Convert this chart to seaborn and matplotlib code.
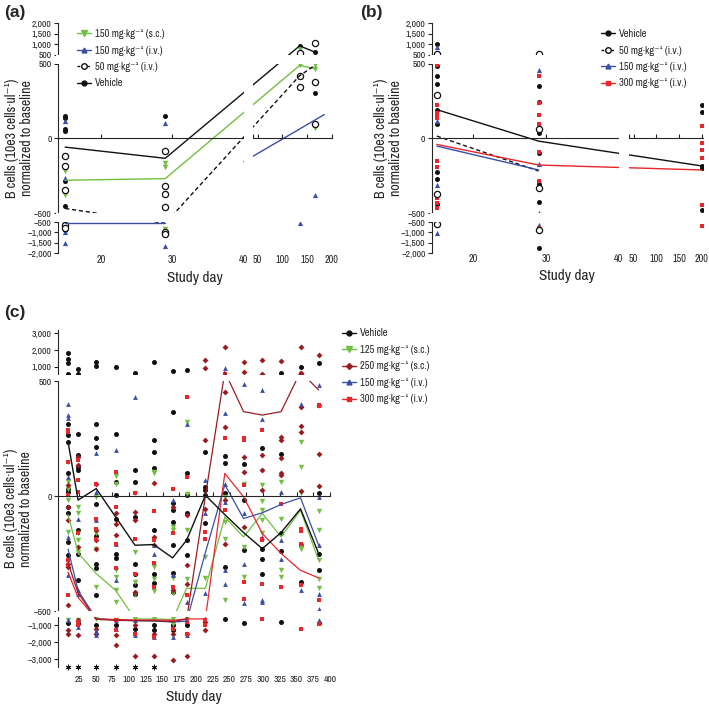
import numpy as np
import pandas as pd
import matplotlib
matplotlib.use("Agg")
import matplotlib.pyplot as plt
from matplotlib.patches import Rectangle
from matplotlib.lines import Line2D
from matplotlib import font_manager
import seaborn as sns

# ---------------- data ----------------
# panel (a)
a_days = [15, 29, 135, 166]
a_veh = [[153, 138, 60, 47, -285, -451, -600, -730, -890], [149, -1040, -1130], [926], [628, 305]]
a_sc150 = [[-120, -185, -215, -345, -380, -560], [-165, -190, -370, -850], [770, 489], [495, 467, 71]]
a_iv150 = [[115, -267, -1000, -1500], [104, -318, -1050, -1660], [420, 345, -530], [378, -378]]
a_iv50 = [[-120, -185, -345, -650, -800], [-84, -318, -369, -462, -1000, -1080], [609, 420, 345], [1054, 378, 100]]
a_veh_line = [-58, -133, 926, 628]
a_sc150_line = [-280, -269, 489, 467]
a_iv50_line = [-469, -560, 420, 490]
a_iv150_left_days = [15, 29]
a_iv150_left = [-560, -560]
a_iv150_right_days = [40, 185]
a_iv150_right = [-155, 160]

# panel (b)
b_days = [15, 29, 200]
b_veh = [[1007, 482, 415, 364, 289, 193, 100, -222, -269, -440],
         [349, 245, 71, 38, -96, -307, -424, -886, -1770],
         [227, 176, -184, -195, -478]]
b_iv50 = [[550, 289, -369, -600], [550, 63, -333, -890], []]
b_iv150 = [[893, 115, -311, -1046], [455, -173, -496, -645], []]
b_iv300 = [[493, 227, 170, 150, 140, -151, -190, -396, -430, -469],
           [420, 238, 156, 100, 50, -91, -285, -800],
           [82, -33, -80, -133, -444, -693]]
b_veh_line = [193, -18, -184]
b_iv50_line = [16, -218]
b_iv150_line = [-51, -211]
b_iv300_line = [-40, -178, -211]

# panel (c)
c_days = [9, 24, 51, 80, 109, 137, 165, 186, 214, 243, 271, 299, 327, 356, 383]
c_veh = [[1800, 1440, 1200, 560, 312, 265, 236, 99, 33, 20, -46, -75, -199, -257, -860],
         [860, 560, 272, 178, 128, 113, -148, -249, -365, -860],
         [1300, 1040, 312, 251, 214, -35, -171, -293, -314, -430, -1000],
         [1000, 272, 62, 7, -101, -249, -267, -1000],
         [600, 113, 62, -90, -293, -336, -387, -423, -1200],
         [1300, 246, 193, 123, -148, -336, -377, -1000, -1290],
         [760, 367, -29, -58, -112, -213, -333, -414, -1000, -1290],
         [800, 101, 4, -75, -191, -257, -1000],
         [193, 41, 26, 4, -116],
         [174, 142, 12, -307, -608],
         [139, -17, -235, -860],
         [207, -228, -272, -339],
         [600, 183, -162, -238, -800],
         [960, -213, -372],
         [1200, 14, -249, -319, -860]]
c_sc125 = [[149, 62, 33, -17, -155, -700],
           [-46, -75, -162, -191, -242, -700],
           [-3, -162, -228, -394, -610],
           [87, 55, -319, -351, -409, -459, -700],
           [12, -242, -372, -423, -610, -800],
           [106, 100, -191, -307, -358, -410, -610],
           [-133, -148, -354, -420, -610, -900],
           [320, 9, -148, -358, -610],
           [-264, -354],
           [-3, -112, -184, -452],
           [55, -220, -351],
           [48, -22, -61, -104, -162],
           [62, -97, -322, -351],
           [236, 128, 12, -220, -228],
           [-65, -148, -278, -358, -397]]
c_sc250 = [[48, -46, -104, -293, -307, -474, -1290, -1490],
           [171, 135, -220, -706, -900, -1590],
           [55, -148, -191, -228, -1200, -1490],
           [-75, -119, -170, -1590, -2180],
           [-68, -104, -416, -1000, -2820],
           [58, -177, -213, -1490, -2820],
           [-46, -409, -1490, -3060],
           [-83, -300, -380, -1490, -2820],
           [1400, 900, 243, -54, -800, -1290],
           [2160, 454, 301, -17, -206],
           [1300, 700, 171, 106, -133],
           [1400, 560, 178, 113, 26],
           [1360, 258, 243, 167, 99, 90],
           [2200, 600, 388, 304, 280, 22],
           [1700, 396, 181, 43]]
c_iv150 = [[400, 352, 338, 84, -177, -343, -706],
           [-97, -409, -423, -1100],
           [186, 19, -104, -1300, -1590],
           [200, -206, -365, -706, -1200],
           [429, -706, -1590],
           [-213, -249, -1690],
           [-17, -343, -1690],
           [313, -459, -1590],
           [70, -72, -420],
           [900, 359, 55, -25, -319, -380],
           [486, -75, -293, -464],
           [461, 335, -177, -449, -460],
           [19, -191, -272],
           [400, -406],
           [483, -3, -213, -423, -488, -706]]
c_iv300 = [[280, 287, 149, 4, -278, -300, -430],
           [159, 70, 19, -162, -800, -1000],
           [51, -101, -141, -184],
           [106, -46, -206, -314, -706, -1290],
           [14, -188, -336, -1490],
           [-64, -191, -290, -394, -1690],
           [29, -162, -394, -1200],
           [432, 84, -430, -800, -1490],
           [-155, -184, -706, -1000],
           [540, 251, -61],
           [251, 243, 48, -372, -445],
           [287, -184, -190, -380, -608],
           [-32, -394],
           [-141, -150, -206, -387, -1200],
           [396, 390, -452, -900]]
c_veh_line = [236, -17, 33, -90, -213, -210, -268, -191, 4, -80, -158, -228, -158, -55, -249]
c_sc125_line = [-80, -246, -336, -409, -620, -620, -650, -400, -400, -90, -177, -75, -177, -61, -278]
c_sc250_line = [-290, -420, -640, -700, -720, -720, -780, -620, 0, 700, 367, 352, 367, 700, 461]
c_iv150_line = [-230, -410, -600, -680, -720, -740, -800, -750, -245, 50, -97, -72, -36, -7, -213]
c_iv300_line = [-330, -440, -620, -650, -680, -680, -700, -620, -620, 99, -3, -162, -249, -322, -355]
c_star_days = [9, 24, 51, 80, 109, 137]

# ---------------- style ----------------
sns.set_style("ticks")
names = {f.name for f in font_manager.fontManager.ttflist}
pref = ["Archivo Narrow", "Liberation Sans Narrow", "Arial Narrow", "Roboto Condensed",
        "Barlow Semi Condensed"]
narrow = [n for n in pref if n in names]
NARROW = bool(narrow)
plt.rcParams["font.family"] = ([narrow[0]] if NARROW else ["Liberation Sans"]) + ["DejaVu Sans"]
plt.rcParams["axes.linewidth"] = 0.8
TS = 7 if NARROW else 6.3   # tick label size

BLACK = "#111111"
GREEN = "#72bf44"
BLUE = "#3a4ea3"
RED = "#e8262b"
DRED = "#9b1c20"
MINUS = "\u2212"
UNIT = "mg\u00b7kg\u207b\u00b9"


def long_df(days, cols):
    return pd.DataFrame([(d, v) for d, col in zip(days, cols) for v in col], columns=["day", "value"])


def y_funcs(km, ku, kl, gu, gl):
    top = 500 * km + gu
    bot = -500 * km - gl

    def fwd(v):
        v = np.asarray(v, dtype=float)
        return np.where(v > 500, top + (v - 500) * ku,
                        np.where(v < -500, bot + (v + 500) * kl, v * km))

    def inv(s):
        s = np.asarray(s, dtype=float)
        return np.where(s > top, 500 + (s - top) / ku,
                        np.where(s < bot, -500 + (s - bot) / kl, np.clip(s / km, -500, 500)))
    return fwd, inv


def x_funcs(k1, k2, gap):
    brk = 40 * k1 + gap

    def fwd(d):
        d = np.asarray(d, dtype=float)
        return np.where(d > 40, brk + (d - 40) * k2, d * k1)

    def inv(s):
        s = np.asarray(s, dtype=float)
        return np.where(s > brk, 40 + (s - brk) / k2, np.minimum(s / k1, 40))
    return fwd, inv


def fmt(v):
    s = f"{abs(int(v)):,}"
    return (MINUS + s) if v < 0 else s


def dots(ax, days, cols, color, marker, size=14, open_=False):
    df = long_df(days, cols)
    if open_:
        sns.scatterplot(data=df, x="day", y="value", marker=marker, s=size, color="white",
                        edgecolor=BLACK, linewidth=0.9, ax=ax, legend=False, zorder=1.2)
    else:
        sns.scatterplot(data=df, x="day", y="value", marker=marker, s=size, color=color,
                        linewidth=0, ax=ax, legend=False, zorder=1.1)


def mean_line(ax, days, vals, color, ls="-", lw=1.0):
    sns.lineplot(x=days, y=vals, color=color, linestyle=ls, linewidth=lw, ax=ax,
                 estimator=None, sort=False, zorder=2)


def finish(ax, yf, xf, xlim, ylim, xticks, xlabels, yticks, ylabels, xpad, xgap=True):
    ax.set_yscale("function", functions=yf)
    if xf is not None:
        ax.set_xscale("function", functions=xf)
    ax.set_xlim(*xlim)
    ax.set_ylim(*ylim)
    ax.spines["top"].set_visible(False)
    ax.spines["right"].set_visible(False)
    ax.spines["bottom"].set_position(("data", 0))
    ax.set_yticks(yticks, ylabels)
    ax.set_xticks(xticks, xlabels)
    ax.tick_params(axis="y", direction="out", length=3, width=0.8, labelsize=TS, pad=1.5)
    ax.tick_params(axis="x", direction="in", length=3, width=0.8, labelsize=TS + 0.3, pad=xpad)
    ax.set_xlabel("Study day", fontsize=11, labelpad=4)
    ax.set_ylabel("B cells (10e3 cells\u00b7ul\u207b\u00b9)\nnormalized to baseline",
                  fontsize=10 if NARROW else 9, linespacing=1.05)
    # white strips for the broken axes
    ax.add_patch(Rectangle((-0.006, 500), 1.02, 1e-6, transform=ax.get_yaxis_transform(),
                           facecolor="white", edgecolor="none", zorder=2.6, clip_on=False))
    ax.add_patch(Rectangle((-0.006, -500 - 1e-6), 1.02, 1e-6, transform=ax.get_yaxis_transform(),
                           facecolor="white", edgecolor="none", zorder=2.6, clip_on=False))
    if xgap:
        ax.add_patch(Rectangle((40, 0), 1e-6, 1.0, transform=ax.get_xaxis_transform(),
                               facecolor="white", edgecolor="none", zorder=2.6, clip_on=False))


W, H = 709, 707
fig = plt.figure(figsize=(W / 100, H / 100), dpi=100)


def add_axes(l, r, t, b):
    return fig.add_axes([l / W, 1 - b / H, (r - l) / W, (b - t) / H])


ab_yticks = [-2000, -1500, -1000, -500.0001, -500, 0, 500, 500.0001, 1000, 1500, 2000]
ab_ylabels = [fmt(v) for v in [-2000, -1500, -1000, -500, -500, 0, 500, 500, 1000, 1500, 2000]]
ab_xticks = [20, 30, 40, 40.000001, 50, 100, 150, 200]
ab_xlabels = ["20", "30", "40", "", "50", "100", "150", "200"]
LEG = dict(loc="upper left", frameon=False, fontsize=7.5 if NARROW else 7, handlelength=1.3,
           handletextpad=0.4, labelspacing=0.62, borderpad=0, borderaxespad=0)

# ---------------- panel (a) ----------------
ax = add_axes(58, 331.7, 23.3, 253)
dots(ax, a_days, a_veh, BLACK, "o", 13)
dots(ax, a_days, a_iv50, BLACK, "o", 20, open_=True)
dots(ax, a_days, a_sc150, GREEN, "v", 16)
dots(ax, a_days, a_iv150, BLUE, "^", 14)
mean_line(ax, a_days, a_veh_line, BLACK)
mean_line(ax, a_days, a_sc150_line, GREEN)
mean_line(ax, a_days, a_iv50_line, BLACK, ls=(0, (3, 2)))
mean_line(ax, a_iv150_left_days, a_iv150_left, BLUE)
mean_line(ax, a_iv150_right_days, a_iv150_right, BLUE)
finish(ax, y_funcs(0.15, 0.0211, 0.0207, 9, 9), x_funcs(7.22, 0.498, 9), (14.0, 200), (-2000, 2000),
       ab_xticks, ab_xlabels, ab_yticks, ab_ylabels, xpad=84)
ax.yaxis.set_label_coords(-0.088, 0.5)
hd = [Line2D([], [], color=GREEN, marker="v", ms=4, lw=1),
      Line2D([], [], color=BLUE, marker="^", ms=3.5, lw=1),
      Line2D([], [], color=BLACK, marker="o", ms=4, mfc="white", lw=1, ls=(0, (2, 1.5))),
      Line2D([], [], color=BLACK, marker="o", ms=3.5, lw=1)]
ax.legend(hd, [f"150 {UNIT} (s.c.)", f"150 {UNIT} (i.v.)", f"50 {UNIT} (i.v.)", "Vehicle"],
          bbox_to_anchor=(0.07, 0.975), **LEG)

# ---------------- panel (b) ----------------
ax = add_axes(431.7, 703, 23.3, 253)
dots(ax, b_days, b_veh, BLACK, "o", 13)
dots(ax, b_days, b_iv50, BLACK, "o", 20, open_=True)
dots(ax, b_days, b_iv150, BLUE, "^", 14)
dots(ax, b_days, b_iv300, RED, "s", 12)
mean_line(ax, b_days, b_veh_line, BLACK)
mean_line(ax, b_days[:2], b_iv50_line, BLACK, ls=(0, (3, 2)))
mean_line(ax, b_days[:2], b_iv150_line, BLUE)
mean_line(ax, b_days, b_iv300_line, RED)
finish(ax, y_funcs(0.15, 0.0211, 0.0207, 9, 9), x_funcs(7.27, 0.453, 10.5), (14.3, 203), (-2000, 2000),
       ab_xticks, ab_xlabels, ab_yticks, ab_ylabels, xpad=83)
ax.yaxis.set_label_coords(-0.106, 0.5)
hd = [Line2D([], [], color=BLACK, marker="o", ms=3.5, lw=1),
      Line2D([], [], color=BLACK, marker="o", ms=4, mfc="white", lw=1, ls=(0, (2, 1.5))),
      Line2D([], [], color=BLUE, marker="^", ms=3.5, lw=1),
      Line2D([], [], color=RED, marker="s", ms=3.5, lw=1)]
ax.legend(hd, ["Vehicle", f"50 {UNIT} (i.v.)", f"150 {UNIT} (i.v.)", f"300 {UNIT} (i.v.)"],
          bbox_to_anchor=(0.625, 0.975), **LEG)

# ---------------- panel (c) ----------------
ax = add_axes(58, 330, 330, 667)
dots(ax, c_days, c_veh, BLACK, "o", 13)
dots(ax, c_days, c_sc125, GREEN, "v", 15)
dots(ax, c_days, c_sc250, DRED, "D", 9)
dots(ax, c_days, c_iv150, BLUE, "^", 12)
dots(ax, c_days, c_iv300, RED, "s", 11)
mean_line(ax, c_days, c_sc125_line, GREEN, lw=0.9)
mean_line(ax, c_days, c_iv150_line, BLUE, lw=0.9)
mean_line(ax, c_days, c_iv300_line, RED, lw=0.9)
mean_line(ax, c_days, c_sc250_line, DRED, lw=0.9)
mean_line(ax, c_days, c_veh_line, BLACK, lw=1.0)
c_yticks = [-3000, -2000, -1000, -500, 0, 500, 1000, 2000, 3000]
c_xticks = list(range(25, 401, 25))
ax.set_xscale("function", functions=(lambda d: np.asarray(d, float) * 0.678,
                                     lambda s: np.asarray(s, float) / 0.678))
c_ylim = (-3450, 3200)
finish(ax, y_funcs(0.2307, 0.0167, 0.017, 6, 5.6), None, (-6, 400), c_ylim,
       c_xticks, [str(t) for t in c_xticks], c_yticks, [fmt(v) for v in c_yticks], xpad=129, xgap=False)
ax.tick_params(axis="x", labelsize=6.8 if NARROW else 5.6)
ax.yaxis.set_label_coords(-0.092, 0.47)
# significance asterisks just under the lower end of the y-axis
sns.scatterplot(x=c_star_days, y=[c_ylim[0]] * len(c_star_days), marker=(6, 2, 0), s=12,
                color=BLACK, edgecolor=BLACK, linewidth=0.7, ax=ax, legend=False, clip_on=False)
hd = [Line2D([], [], color=BLACK, marker="o", ms=3.5, lw=1),
      Line2D([], [], color=GREEN, marker="v", ms=4, lw=1),
      Line2D([], [], color=DRED, marker="D", ms=3, lw=1),
      Line2D([], [], color=BLUE, marker="^", ms=3.5, lw=1),
      Line2D([], [], color=RED, marker="s", ms=3.5, lw=1)]
ax.legend(hd, ["Vehicle", f"125 {UNIT} (s.c.)", f"250 {UNIT} (s.c.)", f"150 {UNIT} (i.v.)",
               f"300 {UNIT} (i.v.)"], bbox_to_anchor=(1.045, 1.005), **LEG)

for lab, x, y in [("(a)", 4, 12), ("(b)", 360, 12), ("(c)", 4, 312)]:
    fig.text(x / W, 1 - y / H, lab, fontsize=12.5, fontweight="bold", va="center", ha="left",
             family="Liberation Sans")

fig.savefig("out.png", dpi=100)
